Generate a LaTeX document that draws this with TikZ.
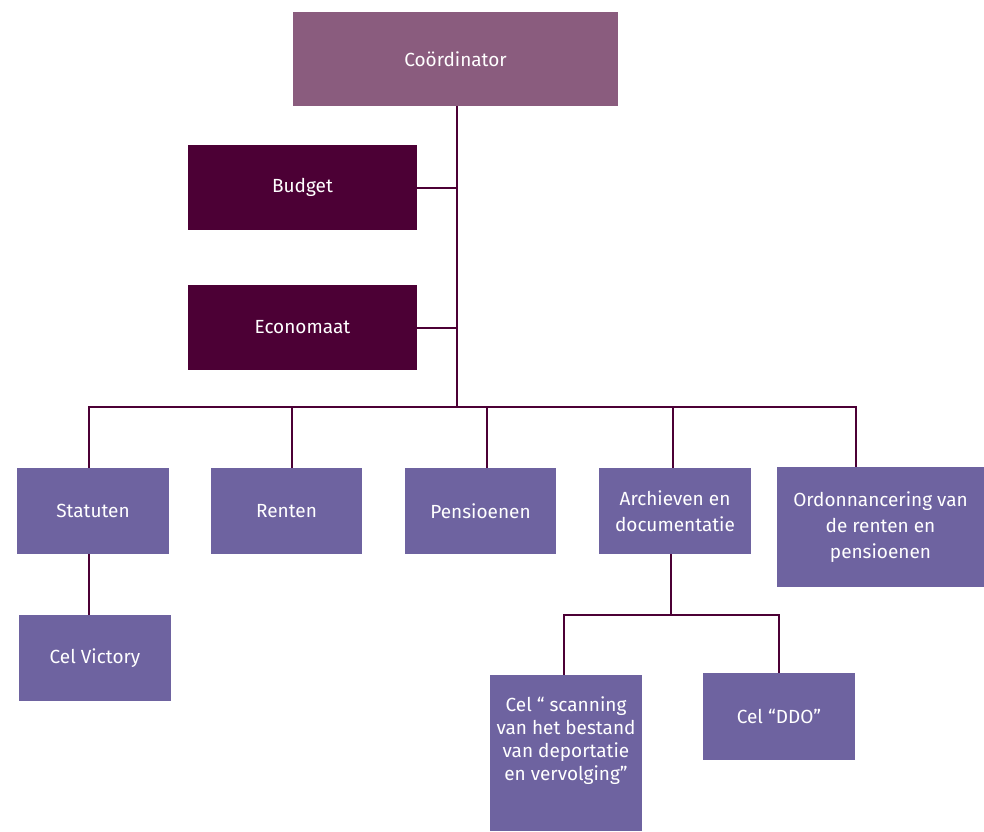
\documentclass[tikz,border=0pt]{standalone}
\usepackage{fontspec}
\setmainfont{Fira Sans}
\definecolor{coordc}{HTML}{8A5C7E}
\definecolor{darkc}{HTML}{4C0035}
\definecolor{unitc}{HTML}{6E63A0}
\definecolor{linec}{HTML}{4C0035}
\begin{document}
\begin{tikzpicture}[x=1pt,y=-1pt,
  boxbase/.style={rectangle,inner sep=0pt,text=white,align=center,font=\fontsize{19}{26}\selectfont},
  topbox/.style={boxbase,fill=coordc},
  staffbox/.style={boxbase,fill=darkc},
  unitbox/.style={boxbase,fill=unitc},
  wire/.style={draw=linec,line width=2pt}]
\useasboundingbox (0,0) rectangle (984,831);
\node[topbox,minimum width=325,minimum height=94] (coord) at (455.5,59) {Coördinator};
\node[staffbox,minimum width=229,minimum height=85] (budget) at (302.5,187.5) {Budget};
\node[staffbox,minimum width=229,minimum height=85] (econ) at (302.5,327.5) {Economaat};
\node[unitbox,minimum width=152,minimum height=86] (stat) at (93,511) {Statuten};
\node[unitbox,minimum width=151,minimum height=86] (rent) at (286.5,511) {Renten};
\node[unitbox,minimum width=151,minimum height=86] (pens) at (480.5,511) {Pensioenen};
\node[unitbox,minimum width=152,minimum height=86] (arch) at (675,511) {Archieven en\\documentatie};
\node[unitbox,minimum width=207,minimum height=120] (ordo) at (880.5,527) {Ordonnancering van\\de renten en\\pensioenen};
\node[unitbox,minimum width=152,minimum height=86] (vict) at (95,658) {Cel Victory};
\node[unitbox,minimum width=152,minimum height=156] (scan) at (566,753) {};
\node[boxbase,font=\fontsize{19}{23}\selectfont] (scantext) at (566,741) {Cel “ scanning\\van het bestand\\van deportatie\\en vervolging”};
\node[unitbox,minimum width=152,minimum height=87] (ddo) at (779,716.5) {Cel “DDO”};
% connector points
\coordinate (trunk) at (457,407);
\coordinate (dS) at (89,407);
\coordinate (dR) at (292,407);
\coordinate (dP) at (487,407);
\coordinate (dA) at (673,407);
\coordinate (dO) at (856,407);
\coordinate (aJ) at (671,615);
\coordinate (sJ) at (564,615);
\coordinate (dJ) at (779,615);
\draw[wire] (coord.south -| trunk) -- (trunk);
\draw[wire] (budget.east) -- (budget.east -| trunk);
\draw[wire] (econ.east) -- (econ.east -| trunk);
\draw[wire] (dS |- stat.north) -- (dS) -- (dO) -- (dO |- ordo.north);
\draw[wire] (dR) -- (dR |- rent.north);
\draw[wire] (dP) -- (dP |- pens.north);
\draw[wire] (dA) -- (dA |- arch.north);
\draw[wire] (dS |- stat.south) -- (dS |- vict.north);
\draw[wire] (aJ |- arch.south) -- (aJ);
\draw[wire] (sJ |- scan.north) -- (sJ) -- (dJ) -- (dJ |- ddo.north);
\end{tikzpicture}
\end{document}
